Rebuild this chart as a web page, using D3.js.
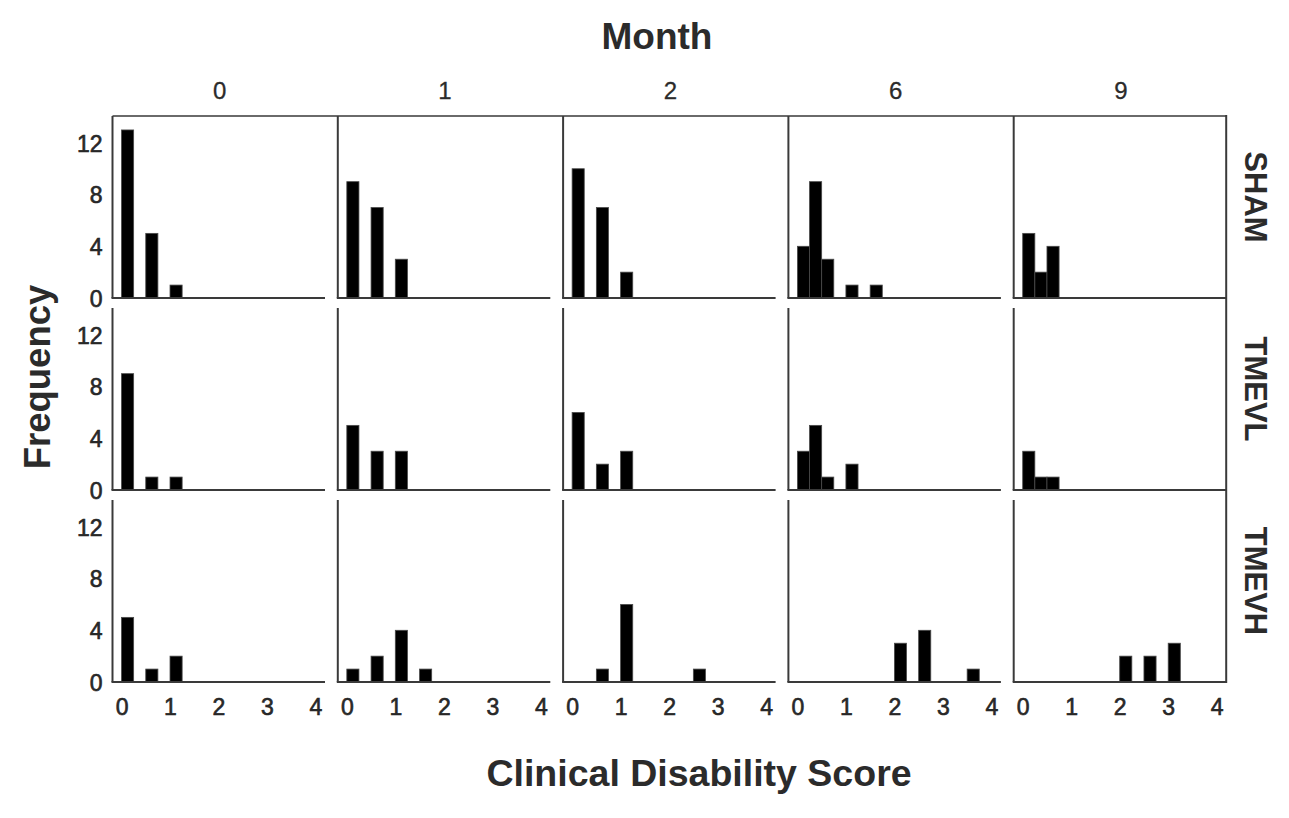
<!DOCTYPE html>
<html>
<head>
<meta charset="utf-8">
<script src="https://cdn.jsdelivr.net/npm/d3@7"></script>
<style>
  html, body { margin: 0; padding: 0; background: #fff; }
  svg { display: block; }
  text { font-family: "Liberation Sans", Arial, sans-serif; fill: #2b2b2b; }
</style>
</head>
<body>
<svg id="chart" width="1289" height="818"></svg>
<script>
// ---- data ----
const months = ["0", "1", "2", "6", "9"];
const groups = ["SHAM", "TMEVL", "TMEVH"];
const xTicks = [0, 1, 2, 3, 4];
const yTicks = [0, 4, 8, 12];
const binWidth = 0.25;
// each entry: [bin start score, frequency]
const sham = [
  [[0, 13], [0.5, 5], [1, 1]],
  [[0, 9], [0.5, 7], [1, 3]],
  [[0, 10], [0.5, 7], [1, 2]],
  [[0, 4], [0.25, 9], [0.5, 3], [1, 1], [1.5, 1]],
  [[0, 5], [0.25, 2], [0.5, 4]]
];
const tmevl = [
  [[0, 9], [0.5, 1], [1, 1]],
  [[0, 5], [0.5, 3], [1, 3]],
  [[0, 6], [0.5, 2], [1, 3]],
  [[0, 3], [0.25, 5], [0.5, 1], [1, 2]],
  [[0, 3], [0.25, 1], [0.5, 1]]
];
const tmevh = [
  [[0, 5], [0.5, 1], [1, 2]],
  [[0, 1], [0.5, 2], [1, 4], [1.5, 1]],
  [[0.5, 1], [1, 6], [2.5, 1]],
  [[2, 3], [2.5, 4], [3.5, 1]],
  [[2, 2], [2.5, 2], [3, 3]]
];
const groupData = [sham, tmevl, tmevh];

// ---- layout ----
const svg = d3.select("#chart");
const left0 = 112.5, colStep = 225.3, panelW = 212.5;
const top0 = 116, rowStep = 192, panelH = 182;
const rightEdge = left0 + 4 * colStep + panelW;
const bottomEdge = top0 + 2 * rowStep + panelH;

const x = d3.scaleLinear().domain([-0.186, 4.196]).range([0, panelW]);
const y = d3.scaleLinear().domain([0, 14.08]).range([panelH, 0]);

const lineCol = "#3a3a3a";
const fontFam = '"Liberation Sans", Arial, sans-serif';

// outer top and right border
svg.append("line")
  .attr("x1", left0).attr("x2", rightEdge).attr("y1", top0).attr("y2", top0)
  .attr("stroke", "#6a6a6a").attr("stroke-width", 2);
svg.append("line")
  .attr("x1", rightEdge).attr("x2", rightEdge).attr("y1", top0 - 1).attr("y2", bottomEdge + 1)
  .attr("stroke", lineCol).attr("stroke-width", 2);

groups.forEach((g, r) => {
  months.forEach((m, c) => {
    const tx = left0 + c * colStep, ty = top0 + r * rowStep;
    const p = svg.append("g").attr("transform", `translate(${tx},${ty})`);
    // bars
    p.selectAll("rect.bar").data(groupData[r][c]).enter().append("rect")
      .attr("class", "bar")
      .attr("x", d => x(d[0]))
      .attr("width", d => x(d[0] + binWidth) - x(d[0]))
      .attr("y", d => y(d[1]))
      .attr("height", d => y(0) - y(d[1]))
      .attr("fill", "#000")
      .attr("stroke", "#4a4a4a")
      .attr("stroke-width", 0.8);
    // left axis line
    p.append("line")
      .attr("x1", x.range()[0]).attr("x2", x.range()[0])
      .attr("y1", y.range()[1]).attr("y2", y.range()[0])
      .attr("stroke", lineCol).attr("stroke-width", 2);
    // bottom axis line
    p.append("line")
      .attr("x1", x.range()[0] - 1).attr("x2", x.range()[1])
      .attr("y1", y(0)).attr("y2", y(0))
      .attr("stroke", lineCol).attr("stroke-width", 2);

    // y tick labels on first column
    if (c === 0) {
      const ya = d3.axisLeft(y).tickValues(yTicks).tickSize(0).tickPadding(10).tickFormat(d3.format("d"));
      const gy = p.append("g").call(ya);
      gy.select(".domain").remove();
      gy.selectAll("text").style("font-size", "23px").style("font-family", fontFam)
        .attr("fill", "#1e1e1e").attr("stroke", "#1e1e1e").attr("stroke-width", 0.6)
        .attr("dy", "0.36em");
    }
    // x tick labels on bottom row
    if (r === groups.length - 1) {
      const xa = d3.axisBottom(x).tickValues(xTicks).tickSize(0).tickPadding(17).tickFormat(d3.format("d"));
      const gx = p.append("g").attr("transform", `translate(0,${panelH})`).call(xa);
      gx.select(".domain").remove();
      gx.selectAll("text").style("font-size", "23px").style("font-family", fontFam)
        .attr("fill", "#1e1e1e").attr("stroke", "#1e1e1e").attr("stroke-width", 0.6);
    }
    // column headers
    if (r === 0) {
      svg.append("text")
        .attr("x", tx + panelW / 2 + 1).attr("y", 99)
        .attr("text-anchor", "middle").style("font-size", "24px")
        .attr("stroke", "#2b2b2b").attr("stroke-width", 0.3)
        .text(m);
    }
  });
  // row labels on the right
  const cy = top0 + r * rowStep + panelH / 2 - 10;
  svg.append("text")
    .attr("transform", `translate(1245,${cy}) rotate(90)`)
    .attr("text-anchor", "middle")
    .style("font-size", "31px").style("font-weight", "bold")
    .text(g);
});

// titles
svg.append("text").attr("x", 657).attr("y", 49).attr("text-anchor", "middle")
  .style("font-size", "37px").style("font-weight", "bold").text("Month");
svg.append("text").attr("x", 699).attr("y", 786).attr("text-anchor", "middle")
  .style("font-size", "37.5px").style("font-weight", "bold").text("Clinical Disability Score");
svg.append("text").attr("transform", "translate(50,377) rotate(-90)").attr("text-anchor", "middle")
  .style("font-size", "36.5px").style("font-weight", "bold").text("Frequency");
</script>
</body>
</html>
